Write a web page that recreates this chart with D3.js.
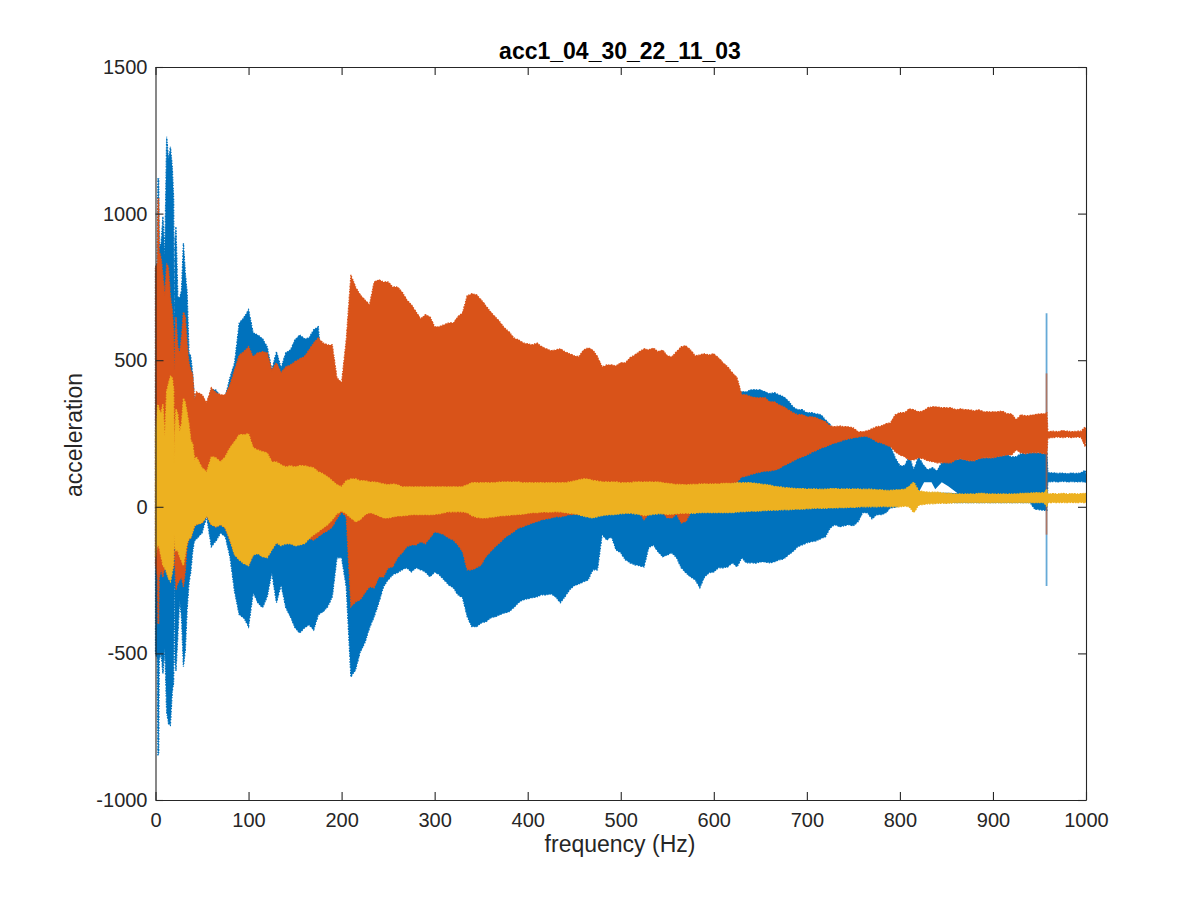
<!DOCTYPE html>
<html>
<head>
<meta charset="utf-8">
<script src="https://cdn.jsdelivr.net/npm/d3@7"></script>
<style>
  body { margin: 0; background: #fff; }
  svg { display: block; font-family: "Liberation Sans", sans-serif; }
  text { fill: #262626; }
</style>
</head>
<body>
<svg width="1200" height="900"></svg>
<script>
const titleText = 'acc1_04_30_22_11_03';
const xTicks = [0, 100, 200, 300, 400, 500, 600, 700, 800, 900, 1000];
const yTicks = [-1000, -500, 0, 500, 1000, 1500];

// frequency grid: dense at the start, then every 5 Hz, finer round the 958 Hz jump
const freq = [].concat(
  [0, 2, 2.6, 3.4, 4, 6, 8, 10, 12, 14, 16, 18, 19.5, 20.2, 20.9],
  d3.range(22, 45, 2),
  d3.range(50, 960, 5),
  [958, 959],
  d3.range(965, 1000, 5),
  [999, 1000]
);

// envelopes (rows below the first: 50 Hz each, from 50 Hz)
const blueTop = [
  818,830,1118,1118,880,900,989,860,1262,1180,1228,1160,1050,559,900,955,716,712,740,900,798,730,525,512,450,360,385,
  370,345,400,398,375,375,440,491,627,645,
  672,593,586,573,546,467,529,474,525,535,
  570,586,573,576,604,614,400,400,400,400,
  400,400,400,400,400,400,400,400,400,400,
  400,400,400,400,400,400,400,400,400,400,
  400,400,400,400,400,400,400,400,400,400,
  400,400,400,400,400,400,400,400,400,400,
  400,400,400,400,400,400,400,400,400,400,
  400,400,400,400,400,400,400,400,400,400,
  400,400,400,400,400,400,400,400,400,400,
  400,400,400,400,400,400,400,400,400,400,
  400,400,400,400,400,400,392,392,399,399,
  399,392,386,389,382,375,362,341,331,331,
  321,321,317,314,297,280,255,255,250,250,
  245,245,245,245,235,225,220,215,205,167,
  140,140,171,126,171,143,126,133,123,150,
  153,160,160,164,160,157,157,164,167,167,
  167,171,174,177,170,171,181,181,184,184,
  184,181,181,116,116,114,115,113,115,114,116,125,110
];
const blueBottom = [
  -500,-520,-846,-846,-520,-500,-570,-480,-700,-740,-745,-630,-600,-225,-520,-560,-440,-320,-380,-545,-490,-350,-260,-220,-150,-115,-110,
  -89,-34,-136,-116,-89,-102,-170,-290,-368,-379,
  -409,-293,-327,-344,-307,-225,-327,-266,-344,-375,
  -413,-430,-413,-402,-420,-368,-358,-341,-307,-174,
  -174,-273,-580,-556,-495,-464,-413,-375,-327,-273,
  -249,-232,-225,-215,-208,-222,-208,-215,-222,-239,
  -222,-232,-249,-266,-276,-300,-310,-375,-409,-409,
  -396,-392,-379,-375,-368,-362,-358,-344,-327,-317,
  -314,-310,-307,-300,-300,-297,-307,-327,-307,-283,
  -269,-263,-256,-249,-215,-215,-95,-113,-102,-147,
  -157,-181,-191,-198,-201,-205,-140,-130,-153,-170,
  -164,-157,-174,-208,-225,-239,-249,-276,-239,-225,
  -222,-208,-208,-205,-191,-205,-174,-191,-191,-192,
  -188,-188,-191,-188,-181,-178,-164,-153,-136,-130,
  -123,-119,-116,-109,-102,-72,-61,-68,-65,-61,
  -65,-51,-20,-20,-41,-27,-27,-20,-3,-2,
  5,10,10,10,12,12,14,14,14,14,
  14,14,14,14,14,14,14,14,14,14,
  14,14,14,14,14,14,14,14,14,-8,
  -10,-12,-12,85,86,85,87,85,86,85,86,84,85
];
const orangeTop = [
  818,830,1050,1050,870,850,790,720,830,815,716,672,600,467,560,648,546,525,580,665,648,559,491,467,450,365,392,
  382,355,406,389,382,382,416,467,518,529,
  546,512,525,529,525,467,491,457,477,484,
  495,505,512,535,559,576,559,552,552,440,
  423,570,791,750,723,706,689,767,774,767,
  767,750,750,733,706,689,665,641,655,648,
  614,614,621,627,627,648,662,720,727,723,
  706,686,665,648,631,610,597,576,570,559,
  556,552,559,546,539,532,535,539,529,522,
  515,512,535,542,535,512,477,484,484,481,
  491,491,508,518,529,539,535,542,529,535,
  515,512,529,546,549,535,515,518,522,518,
  522,508,491,477,457,440,382,382,375,372,
  372,372,358,358,348,341,331,321,314,314,
  307,307,304,297,290,276,273,276,273,273,
  269,256,256,259,266,273,276,283,287,314,
  321,321,334,331,324,327,338,341,341,338,
  338,338,331,334,331,331,327,331,324,324,
  324,324,327,317,317,297,314,310,312,314,
  317,317,320,256,258,256,260,258,256,258,258,273,260
];
const orangeBottom = [
  -198,-240,-400,-400,-240,-215,-240,-200,-225,-240,-250,-220,-200,-90,-200,-283,-260,-250,-240,-273,-220,-130,-110,-105,-85,-65,-60,
  -55,-31,-61,-68,-61,-72,-113,-160,-180,-190,
  -200,-160,-158,-168,-172,-145,-120,-130,-124,-124,
  -130,-128,-124,-108,-113,-102,-89,-82,-68,-40,
  -18,-34,-341,-324,-317,-293,-273,-276,-239,-239,
  -208,-205,-174,-157,-136,-130,-130,-119,-126,-106,
  -85,-89,-95,-106,-113,-130,-153,-215,-215,-208,
  -198,-170,-153,-136,-123,-106,-95,-85,-72,-68,
  -61,-55,-51,-44,-42,-38,-34,-34,-31,-27,
  -25,-25,-25,-25,-25,-25,-20,-20,-20,-20,
  -20,-20,-20,-20,-20,-44,-25,-20,-20,-20,
  -38,-38,-25,-55,-50,-20,0,0,0,20,
  40,60,70,75,80,85,102,105,110,115,
  118,122,122,125,130,140,148,155,165,170,
  177,185,192,200,205,212,218,222,228,232,
  235,238,240,240,232,222,218,211,205,188,
  177,171,160,160,167,164,157,154,150,150,
  150,150,160,164,160,157,157,164,167,167,
  167,171,174,177,177,194,184,181,184,184,
  184,181,181,235,236,238,236,238,236,238,236,205,235
];
const yellowTop = [
  250,340,350,340,330,320,350,240,395,420,445,440,400,150,260,335,315,255,285,370,355,320,280,225,215,160,170,
  133,119,171,167,153,171,201,222,246,246,
  249,201,194,188,184,153,153,143,136,140,
  136,140,140,136,133,119,113,102,89,75,
  68,89,95,95,89,89,85,85,82,78,
  75,78,75,68,68,68,68,68,68,68,
  68,68,68,68,68,68,68,75,82,82,
  82,82,82,82,85,85,85,85,85,82,
  82,82,82,82,82,82,82,82,82,85,
  88,92,95,95,90,88,85,85,85,85,
  82,82,82,85,85,85,85,85,85,82,
  80,78,76,76,75,76,76,78,78,78,
  78,78,80,80,80,82,82,82,82,80,
  78,76,74,70,68,66,65,63,62,62,
  61,61,61,60,60,62,62,61,61,61,
  61,61,60,60,60,58,58,56,56,58,
  58,60,70,85,55,52,50,50,50,48,
  46,46,44,44,44,44,44,46,46,44,
  44,44,44,44,44,44,46,46,47,48,
  48,48,60,44,45,44,46,44,45,44,45,46,44
];
const yellowBottom = [
  -170,-130,-130,-135,-140,-170,-200,-210,-225,-245,-255,-225,-190,-95,-140,-150,-150,-170,-185,-200,-165,-125,-110,-105,-85,-65,-60,
  -55,-31,-61,-68,-61,-72,-113,-164,-181,-194,
  -201,-164,-160,-170,-174,-147,-123,-133,-126,-126,
  -133,-130,-126,-109,-95,-85,-72,-61,-44,-24,
  -14,-24,-38,-51,-44,-27,-20,-24,-31,-38,
  -38,-35,-31,-31,-29,-27,-27,-27,-27,-27,
  -26,-24,-20,-17,-17,-17,-17,-20,-30,-36,
  -38,-38,-36,-34,-31,-30,-29,-27,-26,-25,
  -22,-20,-20,-18,-18,-18,-17,-17,-20,-22,
  -24,-27,-32,-36,-38,-34,-30,-28,-27,-26,
  -24,-22,-22,-24,-26,-30,-28,-26,-24,-24,
  -26,-25,-24,-22,-22,-22,-22,-20,-20,-20,
  -20,-20,-20,-20,-20,-18,-17,-16,-15,-15,
  -14,-13,-12,-12,-11,-10,-10,-9,-8,-8,
  -7,-6,-5,-5,-5,-4,-4,-3,-3,-2,
  -2,-1,0,0,0,0,1,1,0,0,
  0,2,0,-20,5,8,10,10,12,12,
  12,13,14,14,14,14,14,14,14,14,
  14,14,14,14,14,14,14,14,14,14,
  14,14,0,14,15,14,15,14,15,14,15,14,15
];

// white hole in the blue band just above the yellow one, 810-860 Hz
const gapFreq = [810, 820, 826, 834, 838, 845, 852, 862];
const gapTop = [48, 48, 84, 84, 60, 84, 70, 46];
const gapBottom = [48, 48, 48, 48, 48, 48, 48, 46];

// the narrow spike at about 958 Hz
const spikeFreq = 957.6;
const spikeBlue = [-270, 660];
const spikeOrange = [-95, 455];

const colors = { blue: '#0072bd', orange: '#d95319', yellow: '#edb120' };

const svg = d3.select('svg');
const area = { left: 155.5, right: 1086, top: 67, bottom: 800 };

const scX = d3.scaleLinear().domain([0, 1000]).range([area.left, area.right]);
const scY = d3.scaleLinear().domain([-1000, 1500]).range([area.bottom, area.top]);

function drawBand(fs, top, bottom, color, fringe) {
  const band = d3.area()
    .x(d => scX(fs[d]))
    .y0(d => scY(bottom[d]))
    .y1(d => scY(top[d]));
  const path = svg.append('path')
    .attr('d', band(d3.range(fs.length)))
    .attr('fill', color);
  // broken outline: roughens the edge the way the dense signal does
  if (fringe) {
    path.attr('stroke', color)
      .attr('stroke-width', 1.3)
      .attr('stroke-dasharray', '1.2 1.2 2 1 1.2 1.8 1.6 1');
  }
}

function drawSpike(range, color) {
  svg.append('line')
    .attr('x1', scX(spikeFreq)).attr('x2', scX(spikeFreq))
    .attr('y1', scY(range[0])).attr('y2', scY(range[1]))
    .attr('stroke', color)
    .attr('stroke-width', 1.8)
    .attr('stroke-opacity', 0.6);
}

drawSpike(spikeBlue, colors.blue);
drawBand(freq, blueTop, blueBottom, colors.blue, true);
drawBand(gapFreq, gapTop, gapBottom, '#fff', false);
drawSpike(spikeOrange, colors.orange);
drawBand(freq, orangeTop, orangeBottom, colors.orange, true);
drawBand(freq, yellowTop, yellowBottom, colors.yellow, true);

// axes, with ticks pointing inwards on all four sides
const tickLen = 8;
const axes = [
  [d3.axisBottom(scX).tickValues(xTicks).tickSizeInner(-tickLen).tickSizeOuter(0).tickPadding(13).tickFormat(String), 0, area.bottom],
  [d3.axisLeft(scY).tickValues(yTicks).tickSizeInner(-tickLen).tickSizeOuter(0).tickPadding(8).tickFormat(String), area.left, 0],
  [d3.axisTop(scX).tickValues(xTicks).tickSizeInner(-tickLen).tickSizeOuter(0).tickFormat(''), 0, area.top],
  [d3.axisRight(scY).tickValues(yTicks).tickSizeInner(-tickLen).tickSizeOuter(0).tickFormat(''), area.right, 0]
];
axes.forEach(([axis, tx, ty]) => {
  const g = svg.append('g')
    .attr('transform', `translate(${tx}, ${ty})`)
    .call(axis);
  g.attr('font-family', null).attr('font-size', null);
  g.selectAll('path, line').attr('stroke', '#262626').attr('stroke-width', 1.1);
  g.selectAll('text').style('font-size', '20px').attr('fill', '#262626');
});

svg.append('text')
  .attr('x', 620).attr('y', 59)
  .attr('text-anchor', 'middle')
  .style('font-size', '23px').style('font-weight', 'bold')
  .style('fill', '#000')
  .text(titleText);

svg.append('text')
  .attr('x', 620).attr('y', 852)
  .attr('text-anchor', 'middle')
  .style('font-size', '23px')
  .text('frequency (Hz)');

svg.append('text')
  .attr('transform', 'translate(82, 435) rotate(-90)')
  .attr('text-anchor', 'middle')
  .style('font-size', '23px')
  .text('acceleration');
</script>
</body>
</html>
